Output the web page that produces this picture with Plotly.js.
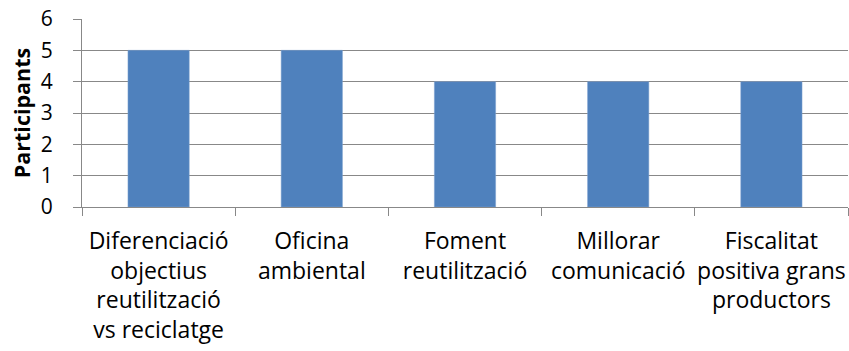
<!DOCTYPE html>
<html>
<head>
<meta charset="utf-8">
<script src="https://cdn.plot.ly/plotly-3.0.1.min.js"></script>
<style>html,body{margin:0;padding:0;background:#fff;}#chart{width:849px;height:351px;}</style>
</head>
<body>
<div id="chart"></div>
<script>
const categories = [
  "Diferenciació<br>objectius<br>reutilització<br>vs reciclatge",
  "Oficina<br>ambiental",
  "Foment<br>reutilització",
  "Millorar<br>comunicació",
  "Fiscalitat<br>positiva grans<br>productors"
];
const participants = [5, 5, 4, 4, 4];
const yTicks = [0, 1, 2, 3, 4, 5, 6];

const trace = {
  type: "bar",
  x: categories,
  y: participants,
  marker: {color: "#4F81BD", line: {color: "#7FA3D0", width: 0.5}},
  hoverinfo: "none"
};

const layout = {
  width: 849,
  height: 351,
  margin: {l: 82, r: 1, t: 19, b: 144},
  paper_bgcolor: "#ffffff",
  plot_bgcolor: "#ffffff",
  bargap: 0.6,
  showlegend: false,
  font: {family: "Open Sans, sans-serif", color: "#000000"},
  xaxis: {
    type: "category",
    showgrid: false,
    showline: true,
    linecolor: "#888888",
    linewidth: 1,
    ticks: "outside",
    tickson: "boundaries",
    ticklen: 8,
    tickcolor: "#888888",
    tickfont: {size: 23, family: "Open Sans, sans-serif", color: "#000"},
    tickangle: 0,
    ticklabelstandoff: 13,
    automargin: false
  },
  yaxis: {
    range: [0, 6],
    tickvals: yTicks,
    ticktext: yTicks.map(String),
    showgrid: true,
    gridcolor: "#888888",
    gridwidth: 1,
    showline: true,
    linecolor: "#888888",
    linewidth: 1,
    ticks: "outside",
    ticklen: 8,
    tickcolor: "#888888",
    tickfont: {size: 21, family: "Open Sans, sans-serif", color: "#000"},
    ticklabelstandoff: 16,
    zeroline: false,
    title: {text: "Participants", font: {size: 21.5, family: "Open Sans, sans-serif", weight: "bold", color: "#000"}, standoff: 4},
    automargin: false
  }
};

Plotly.newPlot("chart", [trace], layout, {displayModeBar: false, staticPlot: true});
</script>
</body>
</html>
